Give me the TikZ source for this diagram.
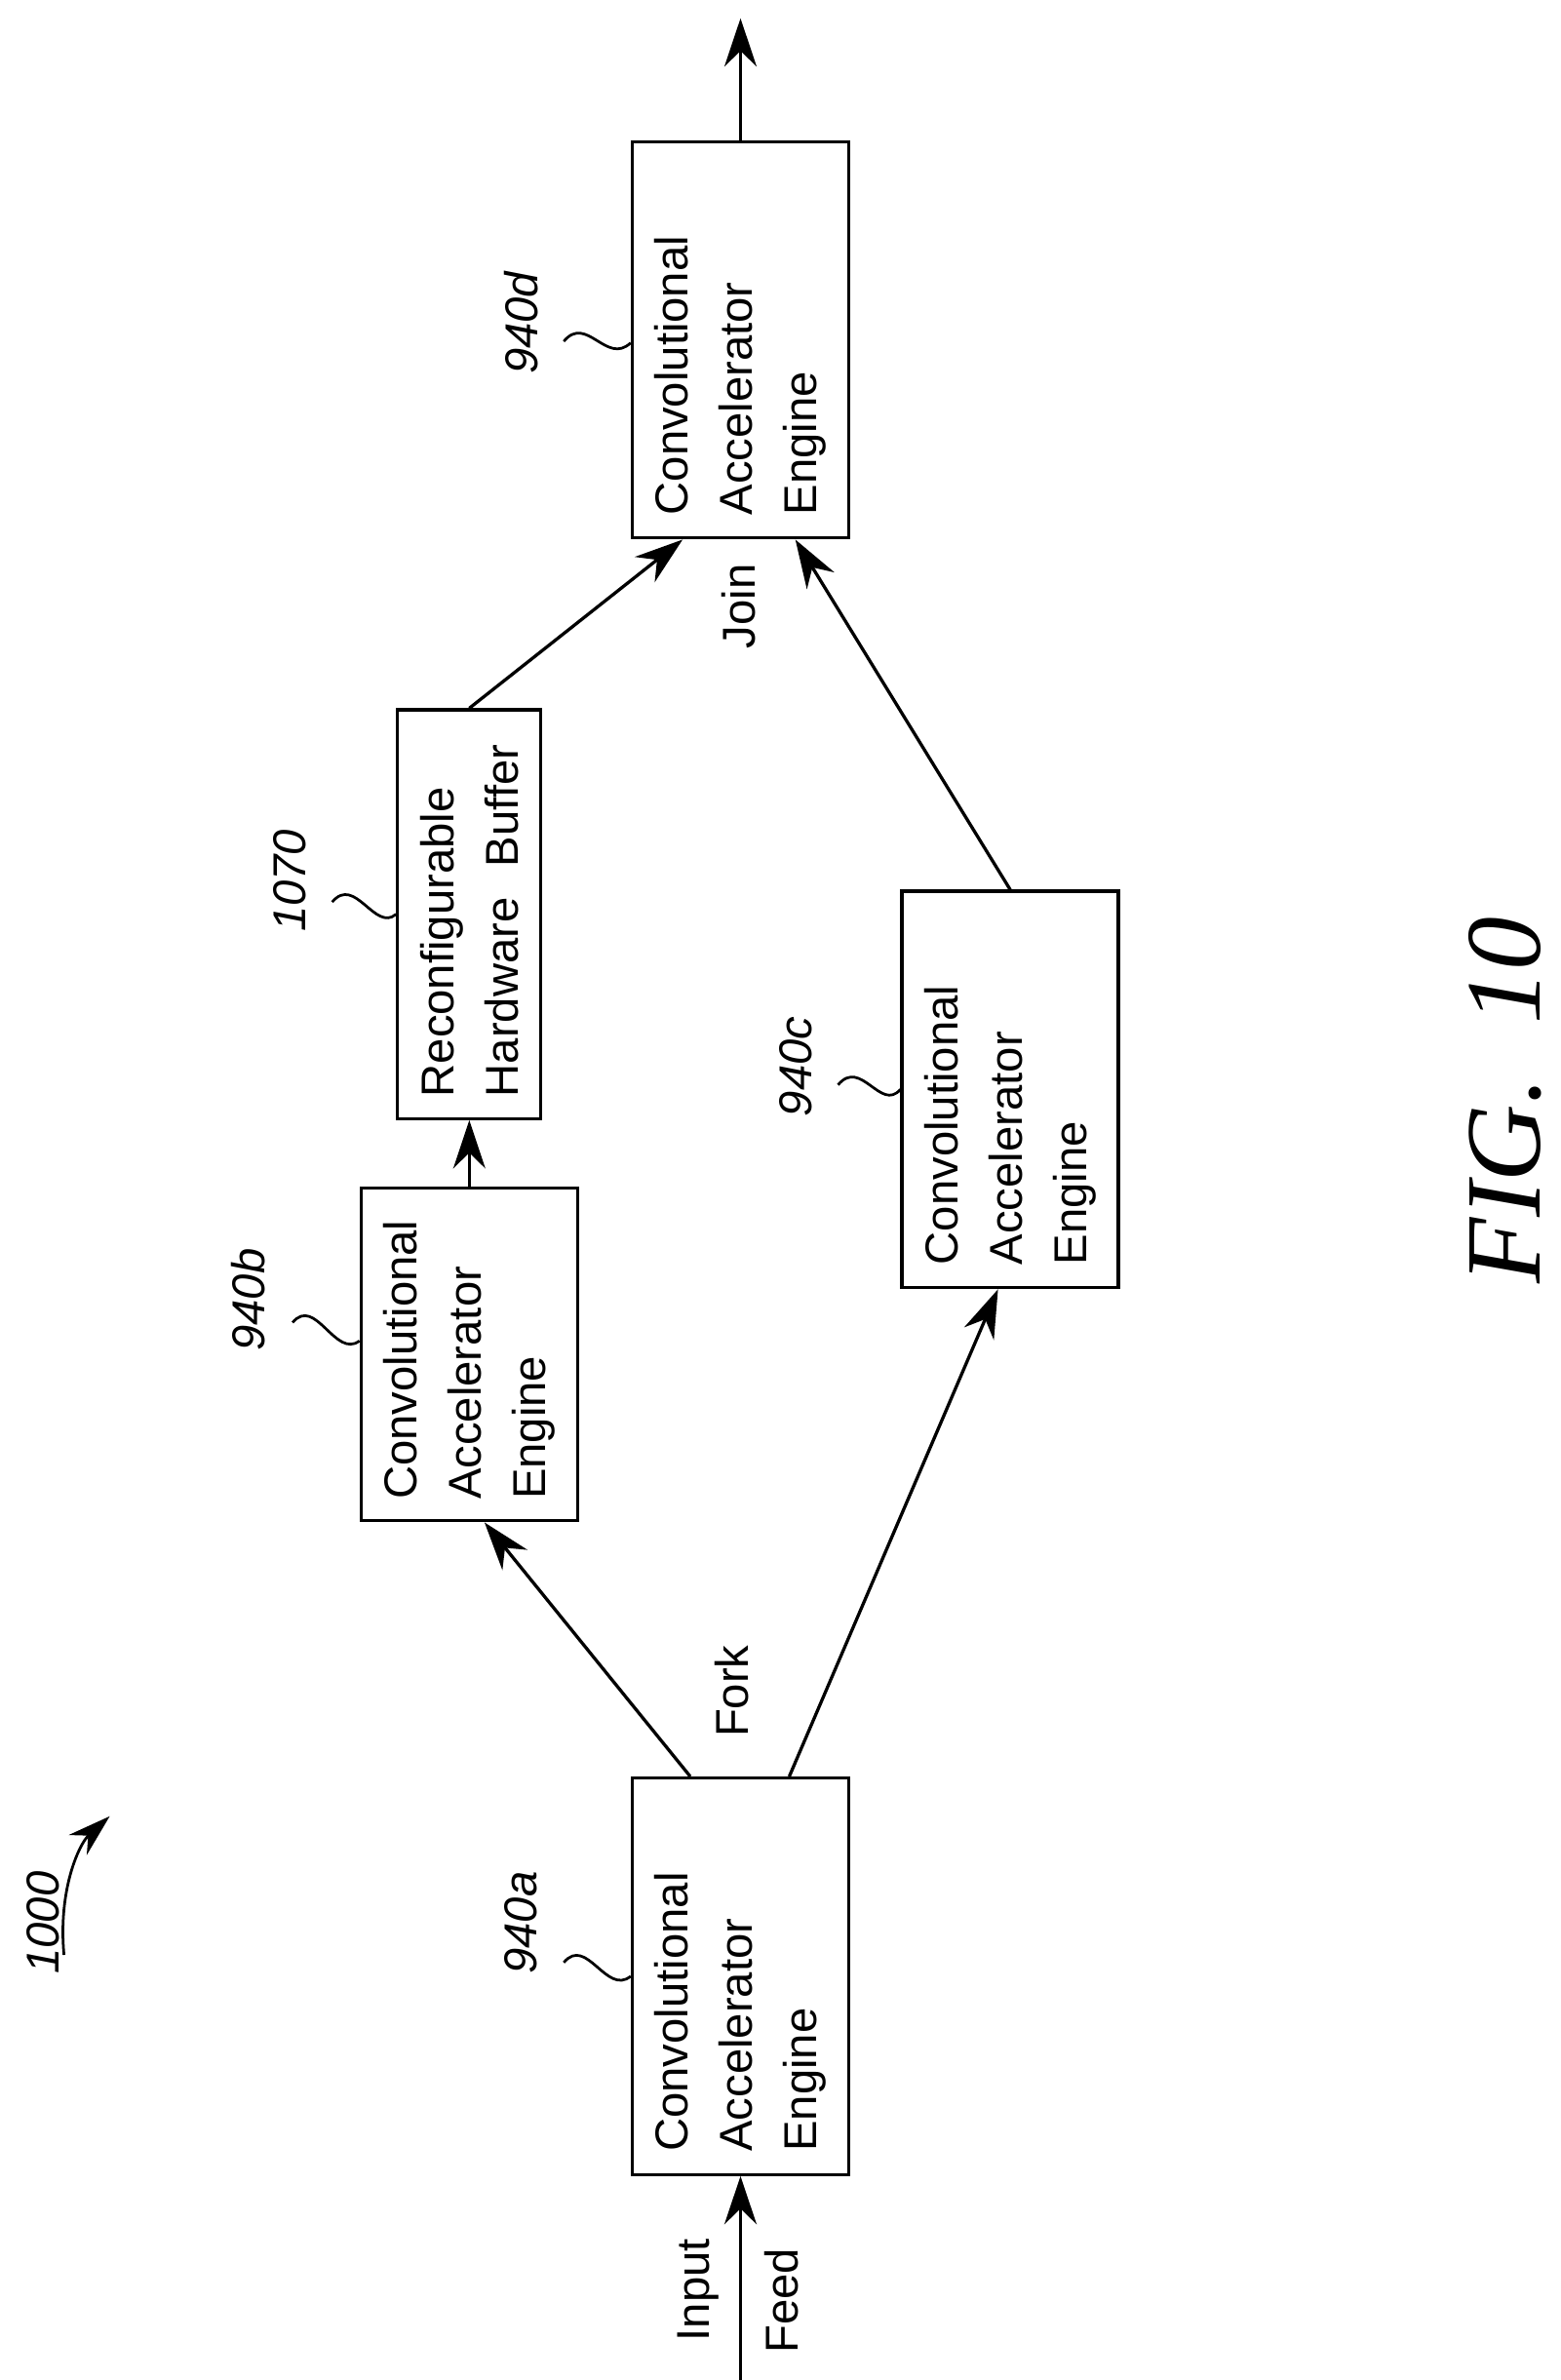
\documentclass[tikz,border=0pt]{standalone}
\usepackage{fontspec}
\setmainfont{Liberation Serif}
\setsansfont{Liberation Sans}
\usetikzlibrary{arrows.meta,calc}
\begin{document}
\begin{tikzpicture}[x=0.01cm,y=-0.01cm,
  box/.style={draw,line width=0.6pt,rotate=90,align=left,font=\sffamily\fontsize{8.6}{12}\selectfont,inner sep=4pt,minimum width=2.6cm},
  eng/.style={box,minimum height=1.42cm,text width=2.3cm},
  lab/.style={rotate=90,font=\sffamily\itshape\fontsize{8.6}{10}\selectfont},
  txt/.style={rotate=90,font=\sffamily\fontsize{8.6}{10}\selectfont},
  arr/.style={line width=0.6pt,-{Stealth[length=9pt,width=6pt]}},
  sq/.style={line width=0.5pt}]
\useasboundingbox (0,0) rectangle (1024,1562);
\node[eng] (a) at (486,1297) {Convolutional\\Accelerator\\Engine};
\node[eng,minimum width=2.18cm,text width=1.9cm] (b) at (308,889) {Convolutional\\Accelerator\\Engine};
\node[box,minimum height=0.94cm,text width=2.4cm] (r) at (308,600) {Reconfigurable\\Hardware\ \ Buffer};
\node[eng] (c) at (663,715) {Convolutional\\Accelerator\\Engine};
\node[eng] (d) at (486,223) {Convolutional\\Accelerator\\Engine};
\coordinate (in) at (486,1562);
\coordinate (out) at (486,12);
\draw[arr] (in) -- (a.west);
\draw[arr] (d.east) -- (out);
\draw[arr] ($(a.east)+(-33,0)$) -- ($(b.west)+(10,0)$);
\draw[arr] ($(a.east)+(32,0)$) -- ($(c.west)+(-8,0)$);
\draw[arr] (b.east) -- (r.west);
\draw[arr] (r.east) -- ($(d.west)+(-38,0)$);
\draw[arr] ($(c.east)+(0,0)$) -- ($(d.west)+(36,0)$);
\node[txt] (fork) at (480,1110) {Fork};
\node[txt] (join) at (485,398) {Join};
\node[txt] (inp) at (458,1503) {Input};
\node[txt] (feed) at (513,1510) {Feed};
\node[lab] (la) at (342,1262) {940a};
\node[lab] (lb) at (163,853) {940b};
\node[lab] (lr) at (190,578) {1070};
\node[lab] (lc) at (522,700) {940c};
\node[lab] (ld) at (342,212) {940d};
\draw[sq] (370,1288) .. controls (385,1270) and (398,1310) .. (a.north);
\draw[sq] (192,868) .. controls (207,850) and (220,892) .. ($(b.north)+(0,-9)$);
\draw[sq] (218,592) .. controls (233,574) and (246,612) .. (r.north);
\draw[sq] (550,712) .. controls (565,694) and (578,730) .. (c.north);
\draw[sq] (370,224) .. controls (385,206) and (398,240) .. ($(d.north)+(0,2)$);
\node[lab] (l1000) at (28,1262) {1000};
\draw[sq,-{Stealth[length=8pt,width=5pt]}] (42,1283) .. controls (38,1240) and (52,1210) .. (72,1192);
\node[rotate=90,font=\itshape\fontsize{20}{22}\selectfont] (fig) at (988,722) {FIG.\ \ 10};
\end{tikzpicture}
\end{document}
